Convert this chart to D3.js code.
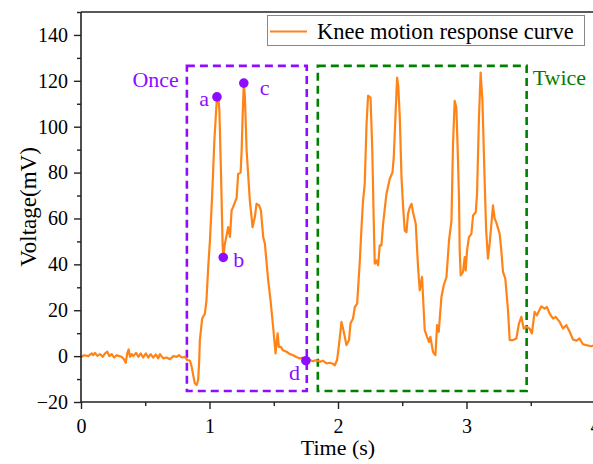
<!DOCTYPE html>
<html>
<head>
<meta charset="utf-8">
<script src="https://cdn.jsdelivr.net/npm/d3@7"></script>
<style>
  html, body { margin: 0; padding: 0; background: #fff; }
  svg { display: block; }
  text { font-family: "Liberation Serif", "Times New Roman", serif; fill: #000; }
</style>
</head>
<body>
<svg id="chart" width="593" height="464"></svg>
<script>
// Knee motion response: time (s) and voltage (mV)
const time = [
  0, 0.005, 0.026, 0.057, 0.083, 0.096, 0.109, 0.127, 0.148, 0.169, 0.187, 0.205, 0.220, 0.239,
  0.257, 0.278, 0.298, 0.316, 0.334, 0.348, 0.360, 0.371, 0.381, 0.394, 0.407, 0.428, 0.446,
  0.464, 0.484, 0.505, 0.523, 0.542, 0.562, 0.583, 0.601, 0.614, 0.640, 0.666, 0.692, 0.718,
  0.744, 0.764, 0.783, 0.809, 0.827, 0.848, 0.861, 0.873, 0.886, 0.900, 0.912, 0.920, 0.925,
  0.943, 0.964, 0.976, 0.990, 1.003, 1.019, 1.038, 1.058, 1.069, 1.077, 1.089, 1.102, 1.107,
  1.120, 1.131, 1.145, 1.159, 1.172, 1.184, 1.211, 1.223, 1.242, 1.250, 1.258, 1.267, 1.275,
  1.289, 1.314, 1.335, 1.353, 1.366, 1.386, 1.400, 1.418, 1.431, 1.456, 1.475, 1.495, 1.514,
  1.530, 1.540, 1.555, 1.571, 1.600, 1.625, 1.651, 1.676, 1.703, 1.726, 1.750, 1.781, 1.806,
  1.831, 1.858, 1.882, 1.911, 1.936, 1.960, 1.975, 1.993, 2.009, 2.027, 2.045, 2.066, 2.086,
  2.097, 2.117, 2.131, 2.149, 2.170, 2.183, 2.195, 2.208, 2.222, 2.234, 2.253, 2.267, 2.278,
  2.286, 2.299, 2.312, 2.325, 2.338, 2.351, 2.377, 2.403, 2.424, 2.434, 2.449, 2.460, 2.469,
  2.481, 2.494, 2.506, 2.519, 2.533, 2.545, 2.558, 2.572, 2.584, 2.605, 2.623, 2.636, 2.654,
  2.667, 2.675, 2.693, 2.708, 2.719, 2.739, 2.758, 2.771, 2.784, 2.805, 2.823, 2.844, 2.864,
  2.883, 2.895, 2.908, 2.921, 2.934, 2.942, 2.947, 2.955, 2.973, 2.986, 2.994, 3.004, 3.019,
  3.038, 3.051, 3.072, 3.082, 3.097, 3.110, 3.124, 3.142, 3.153, 3.167, 3.180, 3.194, 3.206,
  3.219, 3.232, 3.258, 3.271, 3.284, 3.302, 3.323, 3.336, 3.362, 3.388, 3.408, 3.427, 3.445,
  3.466, 3.491, 3.509, 3.530, 3.548, 3.582, 3.608, 3.626, 3.647, 3.673, 3.694, 3.725, 3.751,
  3.777, 3.803, 3.828, 3.855, 3.880, 3.906, 3.932, 3.971, 4.0
];
const voltage = [
  0.5, -0.3, 0.4, 0, 1.2, 0.4, 1.4, 0.1, 0.9, -0.3, 1.2, 1.9, 0, 0.9,
  -0.6, 0.4, 0, -0.3, -1.4, -2.9, 1.2, 2.9, -0.3, 0.9, 0, 1.4, -0.3,
  1.2, -0.6, 1.2, -0.6, 0.9, -0.6, 0.7, -1, 0.9, -1, -0.6, -1.4, 0,
  -0.3, 0.4, -0.6, -0.3, -1.7, -2, -4.6, -8.3, -11.9, -12.6, -10.4, -1.7, 7,
  16.4, 18.5, 24, 38.8, 50, 68, 94, 113, 112.7, 107, 81, 49, 43,
  49, 52, 56.2, 52, 63.5, 65, 69, 79.4, 80, 89.5, 105, 119, 113.5,
  89.5, 67.8, 56.2, 60.6, 66.4, 65.7, 63.5, 51.9, 49, 33.5, 24.3, 12.8, 1.2,
  9.9, 4, 4, 2.6, 1.9, 0.9, 0.4, -0.4, -1, -0.7, -2, -1.7, -2.2,
  -1.7, -2.5, -2, -3.2, -2.9, -3.3, -4, -1.7, 5.5, 14.9, 10.6, 4.8, 7,
  14.2, 16.4, 21.4, 22.9, 41.7, 56.2, 67.8, 75, 101, 113.5, 112.7, 89.5, 59,
  40.3, 41.7, 39.6, 48.3, 48.3, 57.7, 70.7, 77.3, 80.1, 86.7, 107, 121.4, 117.8,
  104, 78, 65.7, 54.8, 54, 62, 64.8, 66.4, 62.7, 57.7, 38.8, 28.7, 34.5,
  20, 11.3, 8.4, 6.2, 8.4, 1.9, 0.4, 13.5, 10.6, 25.8, 30.9, 34.5, 50.4,
  59, 92.5, 111.3, 108.4, 85.2, 67.8, 46, 35.2, 36.7, 43.2, 37.4, 46, 51.9,
  53.3, 61.3, 62.7, 70.7, 104, 123.6, 111.3, 75, 54.8, 42.5, 49, 57.7, 65.7,
  59.9, 58.3, 53.3, 46, 36.7, 33.8, 20, 7, 7, 7.7, 14.2, 17.1, 12,
  12.8, 12, 9.9, 19.3, 17.8, 21.7, 20.7, 21.4, 18.5, 16.4, 17.1, 14.9, 12,
  13.5, 10.6, 7.3, 6.7, 7.7, 5.2, 4.8, 4.3, 4.8
];

// Marked points on the single-motion response
const markerLabels = ["a", "b", "c", "d"];
const markerTimes = [1.058, 1.107, 1.267, 1.750];

// Highlighted regions: [t0, t1, v0, v1]
const onceBox = [0.824, 1.757, -15.2, 126.5];
const twiceBox = [1.843, 3.468, -15.2, 126.5];

// Axis ticks
const xTicks = [0, 1, 2, 3, 4];
const xMinor = [0.5, 1.5, 2.5, 3.5];
const yTicks = [-20, 0, 20, 40, 60, 80, 100, 120, 140];
const yMinor = [-10, 10, 30, 50, 70, 90, 110, 130, 150];

const seriesName = "Knee motion response curve";
const orange = "#ff8418";
const purple = "#8e0dff";
const green = "#008000";

const svg = d3.select("#chart");
const margin = { left: 81, top: 12, right: 595, bottom: 402 };

const x = d3.scaleLinear().domain([0, 4]).range([margin.left, margin.right]);
const y = d3.scaleLinear().domain([-20, 150]).range([margin.bottom, margin.top]);

const data = time.map((t, i) => ({ t, v: voltage[i] }));

svg.append("defs").append("clipPath").attr("id", "plotClip")
  .append("rect")
  .attr("x", margin.left).attr("y", margin.top)
  .attr("width", margin.right - margin.left).attr("height", margin.bottom - margin.top);

// Dashed region boxes
function drawBox(b, color) {
  svg.append("rect")
    .attr("x", x(b[0])).attr("y", y(b[3]))
    .attr("width", x(b[1]) - x(b[0])).attr("height", y(b[2]) - y(b[3]))
    .attr("fill", "none").attr("stroke", color)
    .attr("stroke-width", 2.6).attr("stroke-dasharray", "8,5");
}
drawBox(onceBox, purple);
drawBox(twiceBox, green);

// Response curve
svg.append("path")
  .datum(data)
  .attr("clip-path", "url(#plotClip)")
  .attr("fill", "none")
  .attr("stroke", orange)
  .attr("stroke-width", 2.2)
  .attr("stroke-linejoin", "round")
  .attr("d", d3.line().x(d => x(d.t)).y(d => y(d.v)));

// Marked points and their letters
const markerOffsets = { a: [-8, 9, "end"], b: [10, 10, "start"], c: [16, 12, "start"], d: [-17, 19, "start"] };
markerTimes.forEach((t, i) => {
  const v = voltage[time.indexOf(t)];
  const cx = x(t), cy = y(v);
  svg.append("circle").attr("cx", cx).attr("cy", cy).attr("r", 4.8).attr("fill", purple);
  const off = markerOffsets[markerLabels[i]];
  svg.append("text")
    .attr("x", cx + off[0]).attr("y", cy + off[1])
    .attr("text-anchor", off[2])
    .attr("font-size", 22)
    .style("fill", purple)
    .text(markerLabels[i]);
});

// Region labels
svg.append("text")
  .attr("x", x(onceBox[0]) - 8).attr("y", y(onceBox[3]) + 21)
  .attr("text-anchor", "end").attr("font-size", 22)
  .style("fill", purple).text("Once");
svg.append("text")
  .attr("x", x(twiceBox[1]) + 6).attr("y", y(twiceBox[3]) + 19)
  .attr("text-anchor", "start").attr("font-size", 22)
  .style("fill", green).text("Twice");

// Axes
const axisColor = "#222";
const xAxis = svg.append("g").attr("transform", `translate(0,${margin.bottom})`)
  .call(d3.axisBottom(x).tickValues(xTicks).tickFormat(d3.format("d")).tickSize(7).tickPadding(6));
const xAxisMinor = svg.append("g").attr("transform", `translate(0,${margin.bottom})`)
  .call(d3.axisBottom(x).tickValues(xMinor).tickFormat("").tickSize(4));
const yAxis = svg.append("g").attr("transform", `translate(${margin.left},0)`)
  .call(d3.axisLeft(y).tickValues(yTicks).tickFormat(d3.format("d")).tickSize(7).tickPadding(6));
const yAxisMinor = svg.append("g").attr("transform", `translate(${margin.left},0)`)
  .call(d3.axisLeft(y).tickValues(yMinor).tickFormat("").tickSize(4));

[xAxis, xAxisMinor, yAxis, yAxisMinor].forEach(g => {
  g.select(".domain").attr("stroke", axisColor).attr("stroke-width", 1.6);
  g.selectAll(".tick line").attr("stroke", axisColor).attr("stroke-width", 1.4);
  g.selectAll(".tick text")
    .attr("font-family", "Liberation Serif, Times New Roman, serif")
    .attr("font-size", 20).style("fill", "#000");
});
xAxisMinor.select(".domain").remove();
yAxisMinor.select(".domain").remove();
xAxis.select(".domain").attr("d", `M${margin.left},0H${margin.right}`);
yAxis.select(".domain").attr("d", `M0,${margin.bottom}V${margin.top}`);
xAxis.selectAll(".tick text").attr("dy", "0.9em");

// Top frame line
svg.append("line")
  .attr("x1", margin.left).attr("x2", margin.right)
  .attr("y1", margin.top).attr("y2", margin.top)
  .attr("stroke", axisColor).attr("stroke-width", 1.6);

// Axis titles
svg.append("text")
  .attr("x", (margin.left + margin.right) / 2).attr("y", 455)
  .attr("text-anchor", "middle").attr("font-size", 22)
  .text("Time (s)");
svg.append("text")
  .attr("transform", `translate(36,${(margin.top + margin.bottom) / 2}) rotate(-90)`)
  .attr("text-anchor", "middle").attr("font-size", 23)
  .text("Voltage(mV)");

// Legend
const legend = svg.append("g");
legend.append("rect")
  .attr("x", 267.5).attr("y", 15.5).attr("width", 317).attr("height", 30)
  .attr("fill", "#fff").attr("stroke", "#888").attr("stroke-width", 1);
legend.append("line")
  .attr("x1", 270).attr("x2", 307).attr("y1", 31.5).attr("y2", 31.5)
  .attr("stroke", orange).attr("stroke-width", 2.2);
legend.append("text")
  .attr("x", 317).attr("y", 38.5).attr("font-size", 22.5)
  .text(seriesName);
</script>
</body>
</html>
